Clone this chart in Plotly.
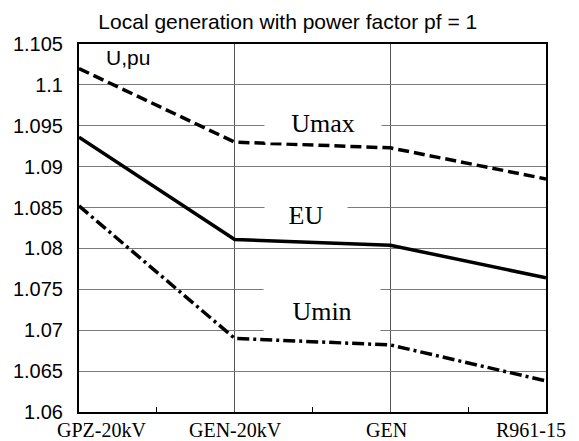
import plotly.graph_objects as go

categories = ["GPZ-20kV", "GEN-20kV", "GEN", "R961-15"]
cat_pos = [0, 1, 2, 3]
u_max = [1.1020, 1.0930, 1.0923, 1.0885]
eu = [1.0936, 1.0811, 1.0804, 1.0764]
u_min = [1.0852, 1.0690, 1.0682, 1.0638]
y_ticks = [1.06, 1.065, 1.07, 1.075, 1.08, 1.085, 1.09, 1.095, 1.1, 1.105]
y_ticktext = ["1.06", "1.065", "1.07", "1.075", "1.08", "1.085", "1.09", "1.095", "1.1", "1.105"]

fig = go.Figure()
fig.add_trace(go.Scatter(x=cat_pos, y=u_max, mode="lines",
                         line=dict(color="black", width=3.5, dash="11px,5px"), name="Umax"))
fig.add_trace(go.Scatter(x=cat_pos, y=eu, mode="lines",
                         line=dict(color="black", width=3.5), name="EU"))
fig.add_trace(go.Scatter(x=cat_pos, y=u_min, mode="lines",
                         line=dict(color="black", width=3.5, dash="12px,4px,3px,4px"), name="Umin"))

serif = "Liberation Serif, Times New Roman, serif"
sans = "Liberation Sans, Arial, sans-serif"

# curve labels (white boxes hide grid lines)
fig.add_annotation(x=1.566, y=1.0954, text="Umax", showarrow=False, bgcolor="white",
                   width=114, height=36, font=dict(family=serif, size=26, color="black"))
fig.add_annotation(x=1.46, y=1.0841, text="EU", showarrow=False, bgcolor="white",
                   width=80, height=36, font=dict(family=serif, size=26, color="black"))
fig.add_annotation(x=1.56, y=1.0724, text="Umin", showarrow=False, bgcolor="white",
                   width=114, height=50, font=dict(family=serif, size=26, color="black"))
fig.add_annotation(x=0.16, y=1.1033, text="U,pu", showarrow=False, xanchor="left", yanchor="middle",
                   font=dict(family=sans, size=21, color="black"))

# x category labels
shifts = [22, 1, -4, -15]
for c, p, s in zip(categories, cat_pos, shifts):
    fig.add_annotation(x=p, y=0, yref="paper", text=c, showarrow=False, yanchor="middle",
                       xshift=s, yshift=-18, font=dict(family=serif, size=20, color="black"))

fig.update_layout(
    width=579, height=441,
    margin=dict(l=79, r=33, t=44, b=29),
    paper_bgcolor="white", plot_bgcolor="white",
    showlegend=False,
    title=dict(text="Local generation with power factor pf = 1", x=0.497, xanchor="center",
               y=0.95, yanchor="middle", font=dict(family=sans, size=21, color="black")),
    xaxis=dict(range=[0, 3], tickvals=cat_pos, showticklabels=False, ticks="",
               showgrid=True, gridcolor="#555555", gridwidth=1,
               showline=True, linecolor="black", linewidth=2, mirror=True, zeroline=False,
               minor=dict(tickvals=[0.5, 1.5, 2.5], ticks="inside", ticklen=5,
                          tickcolor="black", tickwidth=1, showgrid=False)),
    yaxis=dict(range=[1.06, 1.105], tickvals=y_ticks, ticktext=y_ticktext, ticks="",
               showgrid=True, gridcolor="#7a7a7a", gridwidth=1,
               showline=True, linecolor="black", linewidth=2, mirror=True, zeroline=False,
               ticklabelstandoff=10,
               tickfont=dict(family=sans, size=20, color="black")),
)

fig.write_html("out.html", config={"displayModeBar": False},
               post_script="document.body.style.margin='0px';")
